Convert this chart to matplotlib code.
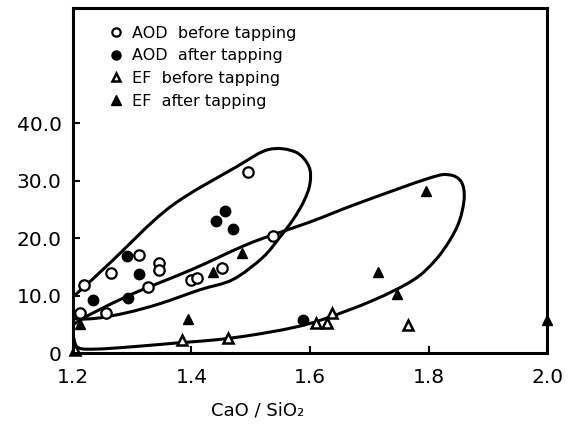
import numpy as np
import matplotlib.pyplot as plt
from matplotlib.path import Path
from matplotlib.patches import PathPatch
from matplotlib.lines import Line2D

# AOD before tapping (open circles)
aod_before_x = [1.219, 1.212, 1.265, 1.256, 1.312, 1.346, 1.346, 1.327, 1.400, 1.409, 1.452, 1.496, 1.538]
aod_before_y = [11.8, 7.0, 13.9, 7.0, 17.0, 15.7, 14.5, 11.5, 12.7, 13.1, 14.8, 31.5, 20.4]

# AOD after tapping (filled circles)
aod_after_x = [1.234, 1.291, 1.311, 1.293, 1.441, 1.457, 1.471, 1.589]
aod_after_y = [9.2, 16.9, 13.7, 9.5, 23.0, 24.7, 21.5, 5.7]

# EF before tapping (open triangles)
ef_before_x = [1.385, 1.462, 1.610, 1.628, 1.637, 1.766, 1.203]
ef_before_y = [2.3, 2.6, 5.3, 5.3, 6.9, 4.9, 0.5]

# EF after tapping (filled triangles)
ef_after_x = [1.212, 1.395, 1.436, 1.486, 1.796, 1.715, 1.746, 2.0]
ef_after_y = [5.0, 6.0, 14.1, 17.4, 28.2, 14.1, 10.3, 5.7]

# hand drawn envelopes
aod_loop_x = [1.185, 1.205, 1.235, 1.268, 1.364, 1.476, 1.530, 1.575, 1.598, 1.600,
              1.590, 1.572, 1.548, 1.520, 1.470, 1.414, 1.347, 1.290, 1.234, 1.195]
aod_loop_y = [8.0, 10.2, 13.0, 16.2, 25.4, 32.4, 35.4, 35.0, 32.5, 29.5,
              26.5, 23.3, 20.0, 16.6, 12.8, 11.0, 8.6, 7.0, 6.0, 6.2]
ef_loop_x = [1.202, 1.290, 1.400, 1.487, 1.538, 1.600, 1.680, 1.800, 1.835, 1.855,
             1.860, 1.852, 1.835, 1.810, 1.774, 1.707, 1.623, 1.570, 1.500, 1.440,
             1.380, 1.300, 1.240, 1.210, 1.202]
ef_loop_y = [5.0, 9.8, 14.5, 18.6, 20.6, 22.8, 26.0, 30.4, 31.0, 29.8,
             27.0, 23.0, 19.5, 16.0, 12.7, 9.2, 5.9, 4.4, 3.1, 2.3,
             1.8, 1.1, 0.7, 0.9, 2.5]

xticks = [1.2, 1.4, 1.6, 1.8, 2.0]
xtick_labels = ['1.2', '1.4', '1.6', '1.8', '2.0']
yticks = [0, 10, 20, 30, 40]
ytick_labels = ['0', '10.0', '20.0', '30.0', '40.0']


def closed_curve(xs, ys):
    # closed Catmull-Rom through the points, as cubic Bezier segments
    pts = np.column_stack([xs, ys])
    n = len(pts)
    verts = [pts[0]]
    codes = [Path.MOVETO]
    for i in range(n):
        p0, p1, p2, p3 = pts[i - 1], pts[i], pts[(i + 1) % n], pts[(i + 2) % n]
        verts += [p1 + (p2 - p0) / 6, p2 - (p3 - p1) / 6, p2]
        codes += [Path.CURVE4] * 3
    return Path(verts, codes)


fig = plt.figure(figsize=(5.73, 4.28), dpi=100)
ax = fig.add_axes([0.127, 0.175, 0.828, 0.806])

for xs, ys in [(aod_loop_x, aod_loop_y), (ef_loop_x, ef_loop_y)]:
    ax.add_patch(PathPatch(closed_curve(xs, ys), facecolor='none',
                           edgecolor='black', lw=2.2))

ms = 7.5
ax.plot(aod_before_x, aod_before_y, 'o', mfc='white', mec='black', mew=1.6, ms=ms, clip_on=False)
ax.plot(aod_after_x, aod_after_y, 'o', mfc='black', mec='black', ms=ms, clip_on=False)
ax.plot(ef_before_x, ef_before_y, '^', mfc='white', mec='black', mew=1.8, ms=ms, clip_on=False)
ax.plot(ef_after_x, ef_after_y, '^', mfc='black', mec='black', ms=ms, clip_on=False)

ax.set_xlim(1.2, 2.0)
ax.set_ylim(0, 60)
ax.set_xticks(xticks, xtick_labels)
ax.set_yticks(yticks, ytick_labels)
ax.tick_params(direction='in', length=5, width=1.5, labelsize=14.5)
ax.tick_params(axis='y', pad=8)
ax.tick_params(axis='x', pad=11)
for s in ax.spines.values():
    s.set_linewidth(2.2)

ax.set_xlabel('CaO / SiO₂', fontsize=13)
ax.xaxis.set_label_coords(0.39, -0.14)

handles = [
    Line2D([], [], ls='', marker='o', mfc='white', mec='black', mew=1.6, ms=6),
    Line2D([], [], ls='', marker='o', mfc='black', mec='black', ms=6.5),
    Line2D([], [], ls='', marker='^', mfc='white', mec='black', mew=1.8, ms=6),
    Line2D([], [], ls='', marker='^', mfc='black', mec='black', ms=6.5),
]
labels = ['AOD  before tapping', 'AOD  after tapping', 'EF  before tapping', 'EF  after tapping']
ax.legend(handles, labels, loc='upper left', bbox_to_anchor=(0.055, 0.982), frameon=False,
          fontsize=11.5, handlelength=0.8, handletextpad=0.6, labelspacing=0.48,
          borderpad=0.2)

fig.savefig('out.png', dpi=100)
